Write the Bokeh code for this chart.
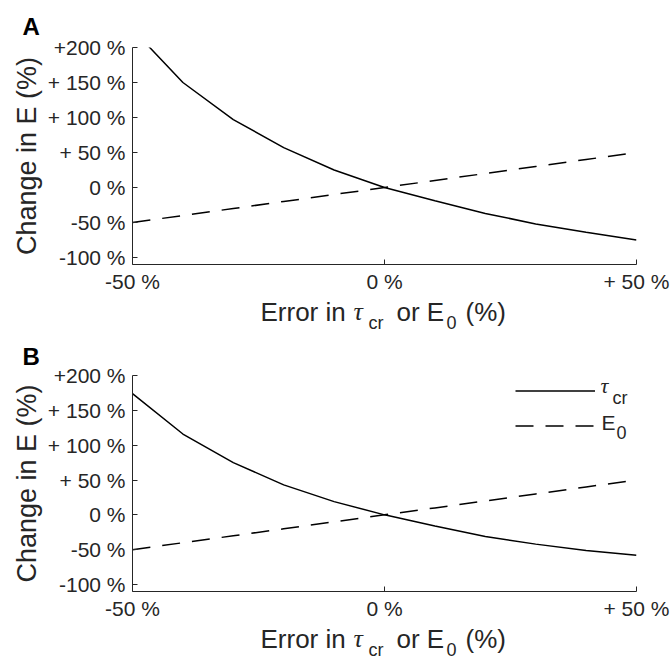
from bokeh.plotting import figure
from bokeh.models import (Range1d, FixedTicker, Label, Legend, LegendItem)
from bokeh.layouts import column
from bokeh.embed import file_html
from bokeh.resources import INLINE

# ---- data ----
error_pct = [-50, -40, -30, -20, -10, 0, 10, 20, 30, 40, 50]
tau_change_A = [226, 150, 97, 57, 25, 0, -19, -37, -52, -64, -75]
e0_change_A = [-50, -40, -30, -20, -10, 0, 10, 20, 30, 40, 50]
tau_change_B = [174, 116, 75, 43, 19, 0, -16, -31, -42, -51, -58]
e0_change_B = [-50, -40, -30, -20, -10, 0, 10, 20, 30, 40, 50]

y_ticks = [-100, -50, 0, 50, 100, 150, 200]
y_tick_labels = ["-100 %", "-50 %", "0 %", "+ 50 %", "+ 100 %", "+ 150 %", "+200 %"]
x_ticks = [-50, 0, 50]
x_tick_labels = ["-50 %", "0 %", "+ 50 %"]
y_label = "Change in E (%)"
x_label_parts = ["Error in", "\u03c4", "cr", "or E", "0", "(%)"]
legend_parts = [("\u03c4", "cr"), ("E", "0")]
panel_letters = ["A", "B"]

X_RANGE = (-50, 50)
Y_RANGE = (-110, 200)

SANS = "Liberation Sans"
SERIF = "Liberation Serif"
TXT = "#262626"
W = 670
FL, FR = 132, 636   # frame left / right in page pixels


def strip(height):
    s = figure(width=W, height=height, output_backend="svg", toolbar_location=None,
               x_range=Range1d(FL, FR), y_range=Range1d(0, height),
               x_axis_type=None, y_axis_type=None,
               min_border_left=FL, min_border_right=W - FR,
               min_border_top=0, min_border_bottom=0)
    s.outline_line_color = None
    s.xgrid.visible = False
    s.ygrid.visible = False
    return s


def add_text(s, x, y, txt, font=SANS, size="26px", style="normal", color=TXT):
    s.add_layout(Label(x=x, y=y, text=txt, text_font=font, text_font_size=size,
                       text_font_style=style, text_color=color,
                       text_baseline="alphabetic", text_align="left"))


def add_xlabel(s, y_base, y_sub):
    specs = [(260, y_base, SANS, "26px", "normal"),
             (353, y_base, SERIF, "26px", "italic"),
             (368, y_sub, SANS, "18px", "normal"),
             (396, y_base, SANS, "26px", "normal"),
             (446, y_sub, SANS, "18px", "normal"),
             (465, y_base, SANS, "26px", "normal")]
    for txt, (x, y, font, size, style) in zip(x_label_parts, specs):
        add_text(s, x, y, txt, font, size, style)


def make_panel(letter, tau, e0, height, top, bottom, title_standoff, legend=False):
    p = figure(width=W, height=height, output_backend="svg", toolbar_location=None,
               x_range=Range1d(*X_RANGE), y_range=Range1d(*Y_RANGE),
               min_border_left=FL, min_border_right=W - FR,
               min_border_top=top, min_border_bottom=bottom)
    p.outline_line_color = None
    p.xgrid.visible = False
    p.ygrid.visible = False

    p.title.text = letter
    p.title.align = "left"
    p.title.offset = -110
    p.title.standoff = title_standoff
    p.title.text_font = SANS
    p.title.text_font_size = "24px"
    p.title.text_font_style = "bold"
    p.title.text_color = "black"

    r_tau = p.line(error_pct, tau, line_color="black", line_width=1.5)
    r_e0 = p.line(error_pct, e0, line_color="black", line_width=1.5, line_dash="18 12")

    for ax, ticks, labels in ((p.yaxis[0], y_ticks, y_tick_labels),
                              (p.xaxis[0], x_ticks, x_tick_labels)):
        ax.ticker = FixedTicker(ticks=ticks)
        ax.major_label_overrides = {t: l for t, l in zip(ticks, labels)}
        ax.minor_tick_line_color = None
        ax.major_tick_in = 5
        ax.major_tick_out = 0
        ax.axis_line_color = TXT
        ax.major_tick_line_color = TXT
        ax.major_label_text_font = SANS
        ax.major_label_text_font_size = "21px"
        ax.major_label_text_color = TXT
    p.yaxis.major_label_standoff = 7
    p.xaxis.major_label_standoff = 5

    p.yaxis.axis_label = y_label
    p.yaxis.axis_label_text_font = SANS
    p.yaxis.axis_label_text_font_size = "27px"
    p.yaxis.axis_label_text_font_style = "normal"
    p.yaxis.axis_label_text_color = TXT
    p.yaxis.axis_label_standoff = 3

    if legend:
        leg = Legend(items=[LegendItem(label=" ", renderers=[r_tau]),
                            LegendItem(label=" ", renderers=[r_e0])],
                     location=(383, 148), glyph_width=80, glyph_height=35,
                     label_height=35, label_width=0, label_standoff=0,
                     label_text_font_size="1px", spacing=0, padding=0, margin=0,
                     border_line_color=None, background_fill_alpha=0)
        p.add_layout(leg)
        (t_main, t_sub), (e_main, e_sub) = legend_parts
        specs = [(t_main, -36, -10, SERIF, "22px", "italic"),
                 (t_sub, -24, -22, SANS, "18px", "normal"),
                 (e_main, -35, -47, SANS, "21px", "normal"),
                 (e_sub, -20, -57, SANS, "18px", "normal")]
        for txt, dx, dy, font, size, style in specs:
            p.add_layout(Label(x=X_RANGE[1], y=Y_RANGE[1], x_offset=dx, y_offset=dy, text=txt,
                               text_font=font, text_font_size=size, text_font_style=style,
                               text_color=TXT, text_baseline="alphabetic", text_align="left"))
    return p


pA = make_panel(panel_letters[0], tau_change_A, e0_change_A, 295, 47, 30, 16)

s1 = strip(39)
add_xlabel(s1, 23, 12)

pB = make_panel(panel_letters[1], tau_change_B, e0_change_B, 288, 41, 30, 11, legend=True)

s2 = strip(39)
add_xlabel(s2, 23, 12)

layout = column(pA, s1, pB, s2, spacing=0)
open("out.html", "w").write(file_html(layout, INLINE))
